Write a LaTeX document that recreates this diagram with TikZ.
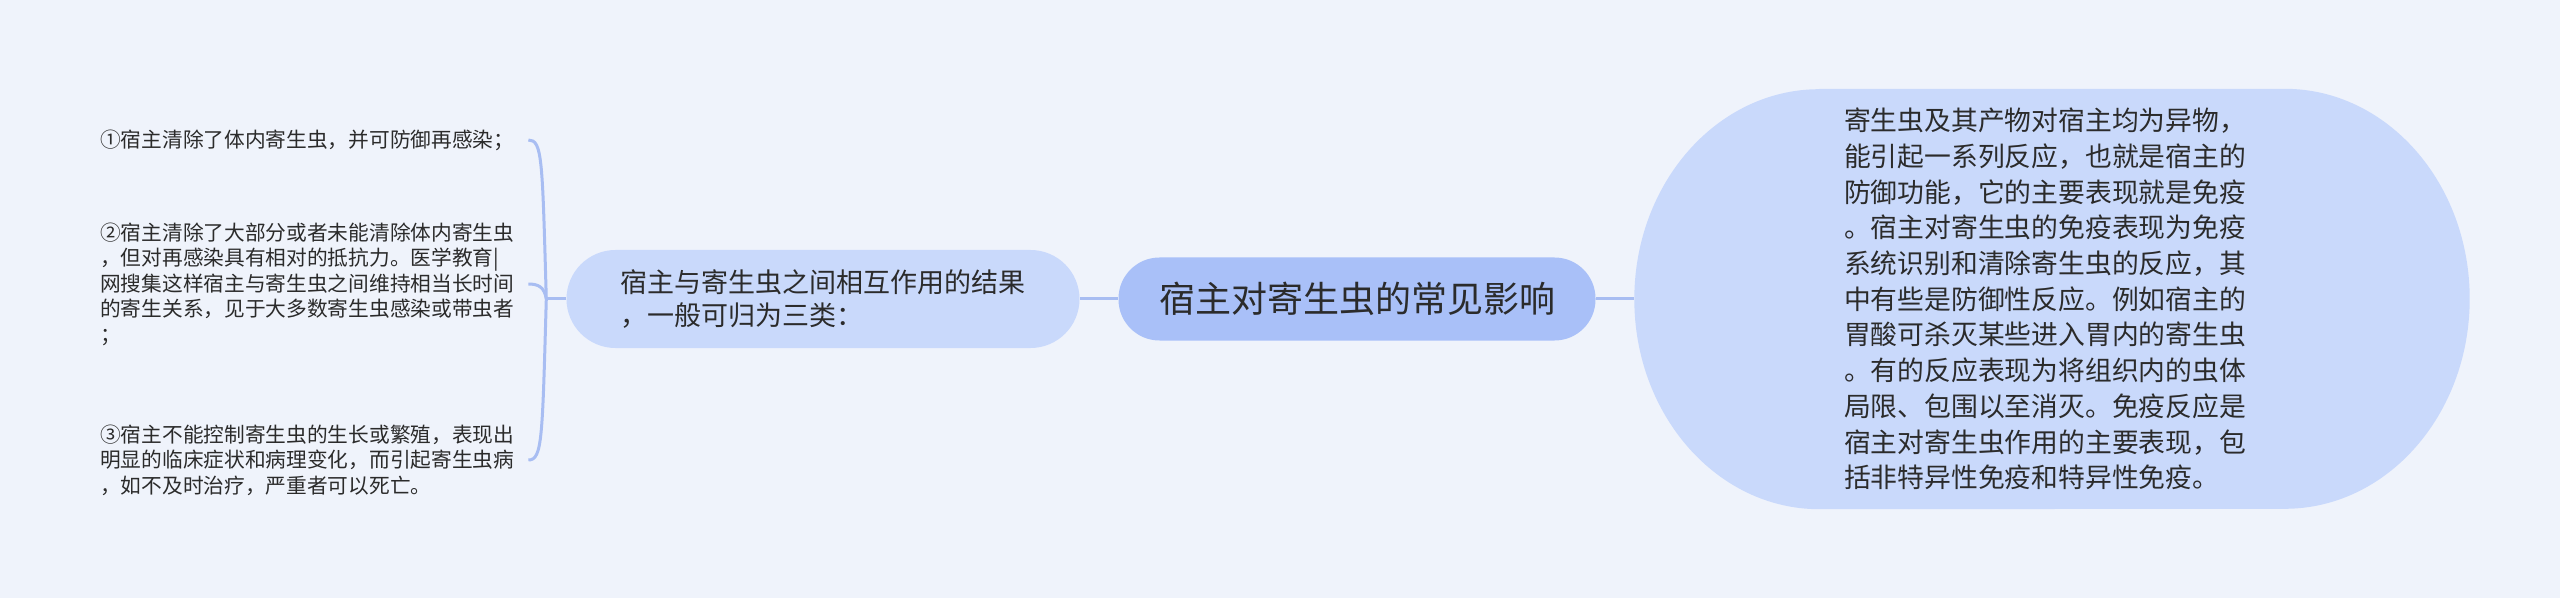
\documentclass[tikz,border=0pt]{standalone}
\usepackage{fontspec}
\newfontfamily\cjk{Noto Sans CJK SC}
\usetikzlibrary{backgrounds}
\definecolor{pagebg}{HTML}{EFF3FB}
\definecolor{rootfill}{HTML}{A9C0F8}
\definecolor{nodefill}{HTML}{C9D9FB}
\definecolor{linecol}{HTML}{A8BDF2}
\definecolor{textcol}{HTML}{2B2B2B}

\begin{document}
\begin{tikzpicture}
[x=1pt,y=1pt,
 topic/.style={rounded corners=41pt,fill=rootfill,minimum width=477pt,minimum height=83pt,inner sep=0pt,text=textcol,font=\cjk\fontsize{36}{44}\selectfont},
 branch/.style={rounded corners=49pt,fill=nodefill,minimum width=513pt,minimum height=98pt,inner sep=0pt,align=left,text=textcol,font=\cjk\fontsize{27}{33}\selectfont},
 bigbox/.style={minimum width=835pt,minimum height=420pt,inner sep=0pt},
 bigtext/.style={inner sep=0pt,align=left,text=textcol,font=\cjk\fontsize{26.8}{35.7}\selectfont},
 leaf/.style={anchor=west,inner sep=0pt,text width=420pt,align=left,text=textcol,font=\cjk\fontsize{20.7}{25.5}\selectfont},
 link/.style={draw=linecol,line width=3pt}]
\useasboundingbox (0,0) rectangle (2560,598);

\node[topic] (root) at (1357,299) {宿主对寄生虫的常见影响};
\node[branch] (result) at (823,299) {宿主与寄生虫之间相互作用的结果\\，一般可归为三类：};
\node[bigbox] (immune) at (2052,299) {};
\node[bigtext] (immunetext) at ([xshift=-7pt]immune.center) {寄生虫及其产物对宿主均为异物，\\能引起一系列反应，也就是宿主的\\防御功能，它的主要表现就是免疫\\。宿主对寄生虫的免疫表现为免疫\\系统识别和清除寄生虫的反应，其\\中有些是防御性反应。例如宿主的\\胃酸可杀灭某些进入胃内的寄生虫\\。有的反应表现为将组织内的虫体\\局限、包围以至消灭。免疫反应是\\宿主对寄生虫作用的主要表现，包\\括非特异性免疫和特异性免疫。};

\node[leaf] (l1) at (100,458) {①宿主清除了体内寄生虫，并可防御再感染；};
\node[leaf] (l2) at (100,314) {②宿主清除了大部分或者未能清除体内寄生虫\\，但对再感染具有相对的抵抗力。医学教育|\\网搜集这样宿主与寄生虫之间维持相当长时间\\的寄生关系，见于大多数寄生虫感染或带虫者\\；};
\node[leaf] (l3) at (100,138) {③宿主不能控制寄生虫的生长或繁殖，表现出\\明显的临床症状和病理变化，而引起寄生虫病\\，如不及时治疗，严重者可以死亡。};

\coordinate (fork) at ([xshift=-20pt]result.west);
\draw [link] (result.west) -- (fork);
\draw [link] (fork) .. controls +(-4,140) and +(14,0) .. ([xshift=8pt]l1.east);
\draw [link] (fork) .. controls +(-2,12) and +(10,0) .. ([xshift=8pt]l2.east);
\draw [link] (fork) .. controls +(-4,-140) and +(14,0) .. ([xshift=8pt]l3.east);
\draw [link] (result.east) -- (root.west);
\draw [link] (root.east) -- (immune.west);

\begin{scope}[on background layer]
\fill[pagebg] (0,0) rectangle (2560,598);
\fill[nodefill] ([xshift=185pt]immune.north west) -- ([xshift=-185pt]immune.north east)
  arc[start angle=90,end angle=-90,x radius=185pt,y radius=210pt]
  -- ([xshift=185pt]immune.south west)
  arc[start angle=270,end angle=90,x radius=185pt,y radius=210pt] -- cycle;
\end{scope}
\end{tikzpicture}
\end{document}
